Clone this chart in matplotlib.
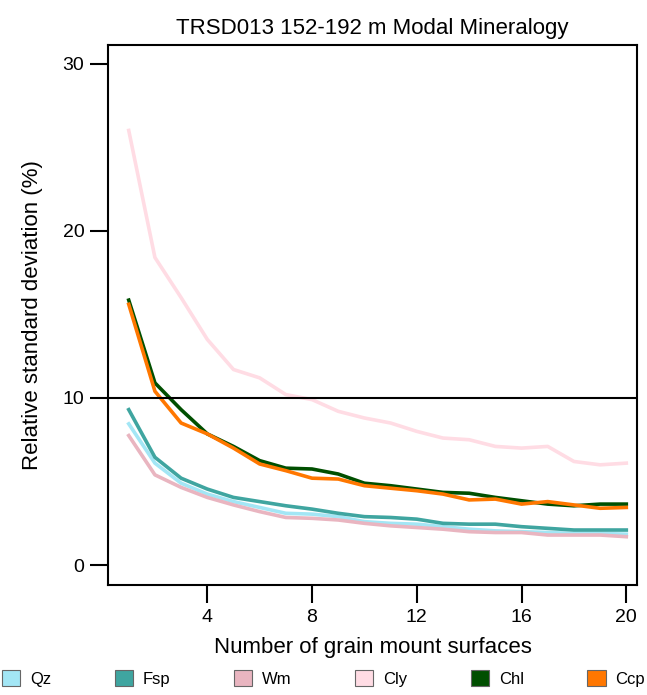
import matplotlib
matplotlib.use('Agg')
import matplotlib.pyplot as plt
from matplotlib.patches import Patch

plt.rcParams['font.family'] = ['Liberation Sans', 'DejaVu Sans']

surfaces = list(range(1, 21))

qz = [8.45, 6.1, 4.9, 4.25, 3.8, 3.45, 3.1, 3.05, 2.9, 2.6,
      2.5, 2.45, 2.3, 2.15, 2.05, 2.0, 1.95, 1.9, 1.9, 1.85]
fsp = [9.3, 6.45, 5.2, 4.55, 4.05, 3.8, 3.55, 3.35, 3.1, 2.9,
       2.85, 2.75, 2.5, 2.45, 2.45, 2.3, 2.2, 2.1, 2.1, 2.1]
wm = [7.75, 5.4, 4.65, 4.05, 3.6, 3.2, 2.85, 2.8, 2.7, 2.5,
      2.35, 2.25, 2.15, 2.0, 1.95, 1.95, 1.8, 1.8, 1.8, 1.7]
cly = [26.0, 18.4, 16.0, 13.5, 11.7, 11.2, 10.2, 9.9, 9.2, 8.8,
       8.5, 8.0, 7.6, 7.5, 7.1, 7.0, 7.1, 6.2, 6.0, 6.1]
chl = [15.85, 10.9, 9.3, 7.85, 7.1, 6.25, 5.8, 5.75, 5.45, 4.9,
       4.75, 4.55, 4.35, 4.3, 4.05, 3.85, 3.65, 3.55, 3.65, 3.65]
ccp = [15.6, 10.4, 8.5, 7.85, 7.0, 6.05, 5.65, 5.2, 5.15, 4.75,
       4.6, 4.45, 4.25, 3.9, 3.95, 3.65, 3.8, 3.6, 3.4, 3.45]

names = ['Qz', 'Fsp', 'Wm', 'Cly', 'Chl', 'Ccp']
series = [qz, fsp, wm, cly, chl, ccp]
colors = ['#a3e6f5', '#3fa5a0', '#e9b5c0', '#ffdce4', '#004f00', '#ff7700']

fig = plt.figure(figsize=(6.47, 6.95), dpi=100)
ax = fig.add_axes([0.167, 0.158, 0.818, 0.777])

# light lines first so the darker ones sit on top
order = [3, 0, 2, 1, 4, 5]
for i in order:
    ax.plot(surfaces, series[i], color=colors[i], lw=2.6, solid_joinstyle='round')

ax.axhline(10, color='black', lw=1.5)

ax.set_xlim(0.21, 20.42)
ax.set_ylim(-1.2, 31.1)
ax.set_xticks([4, 8, 12, 16, 20])
ax.set_yticks([0, 10, 20, 30])
ax.tick_params(direction='out', length=13, width=1.5, labelsize=14, pad=4)
for s in ax.spines.values():
    s.set_linewidth(1.5)

ax.set_title('TRSD013 152-192 m Modal Mineralogy', fontsize=16, pad=8)
ax.set_xlabel('Number of grain mount surfaces', fontsize=16, labelpad=8)
ax.set_ylabel('Relative standard deviation (%)', fontsize=16, labelpad=14)

handles = [Patch(facecolor=c, edgecolor='#666666', lw=0.8) for c in colors]
fig.legend(handles, names, loc='lower left', bbox_to_anchor=(-0.01, 0.0, 1.02, 0.04),
           mode='expand', ncol=6, frameon=False, fontsize=12,
           handlelength=1.1, handleheight=1.1, handletextpad=0.6, borderaxespad=0.1)

fig.savefig('out.png', dpi=100)
